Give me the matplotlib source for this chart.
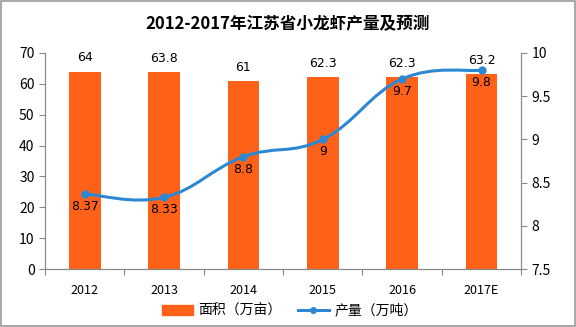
import numpy as np
import matplotlib
matplotlib.use("Agg")
import matplotlib.pyplot as plt
from matplotlib.patches import Rectangle, PathPatch
from matplotlib.path import Path
from matplotlib.lines import Line2D

plt.rcParams['font.family'] = ['Noto Sans CJK SC', 'DejaVu Sans']

years = ['2012', '2013', '2014', '2015', '2016', '2017E']
area = [64, 63.8, 61, 62.3, 62.3, 63.2]          # 面积（万亩）
output = [8.37, 8.33, 8.8, 9, 9.7, 9.8]         # 产量（万吨）
area_labels = ['64', '63.8', '61', '62.3', '62.3', '63.2']
output_labels = ['8.37', '8.33', '8.8', '9', '9.7', '9.8']

bar_color = '#FF6119'
line_color = '#2D88D4'
axis_gray = '#888888'


def smooth_path(xs, ys, t=0.2):
    # catmull-rom style bezier through the points (drawing only)
    xs = np.asarray(xs, float)
    ys = np.asarray(ys, float)
    verts = [(xs[0], ys[0])]
    codes = [Path.MOVETO]
    n = len(xs)
    for i in range(n - 1):
        i0 = max(i - 1, 0)
        i3 = min(i + 2, n - 1)
        c1 = (xs[i] + (xs[i + 1] - xs[i0]) * t, ys[i] + (ys[i + 1] - ys[i0]) * t)
        c2 = (xs[i + 1] - (xs[i3] - xs[i]) * t, ys[i + 1] - (ys[i3] - ys[i]) * t)
        verts += [c1, c2, (xs[i + 1], ys[i + 1])]
        codes += [Path.CURVE4] * 3
    return Path(verts, codes)


fig = plt.figure(figsize=(5.76, 3.27), dpi=100)
ax = fig.add_axes([0.078, 0.177, 0.827, 0.661])
ax2 = ax.twinx()

x = np.arange(len(years))
ax.bar(x, area, width=0.4, color=bar_color, zorder=2)
ax.set_ylim(0, 70)
ax.set_yticks(np.arange(0, 71, 10))
ax.set_xlim(-0.5, len(years) - 0.5)
ax.set_xticks(np.arange(-0.5, len(years)), labels=[])
ax.set_xticks(x, labels=years, minor=True)
ax.tick_params(axis='x', which='major', length=4, color=axis_gray, direction='out')
ax.tick_params(axis='x', which='minor', length=0, labelsize=9, pad=11)
ax.tick_params(axis='y', length=4, color=axis_gray, labelsize=10, direction='out')

for xi, v, s in zip(x, area, area_labels):
    ax.text(xi, v + 2.3, s, ha='center', va='bottom', fontsize=9, family='DejaVu Sans')

ax2.add_patch(PathPatch(smooth_path(x, output), facecolor='none', edgecolor=line_color,
                        lw=2.2, zorder=3))
ax2.plot(x, output, color=line_color, lw=0, marker='o', ms=5, zorder=4)
ax2.set_ylim(7.5, 10)
ax2.set_yticks([7.5, 8, 8.5, 9, 9.5, 10], labels=['7.5', '8', '8.5', '9', '9.5', '10'])
ax2.tick_params(axis='y', length=4, color=axis_gray, labelsize=10, direction='out')
for xi, v, s in zip(x, output, output_labels):
    ax2.text(xi, v - 0.07, s, ha='center', va='top', fontsize=9, family='DejaVu Sans')

for a in (ax, ax2):
    a.spines['top'].set_visible(False)
    for side in ('left', 'right', 'bottom'):
        a.spines[side].set_color(axis_gray)

fig.text(0.5, 0.925, '2012-2017年江苏省小龙虾产量及预测', ha='center', va='center',
         fontsize=12, fontweight='bold')

handles = [Rectangle((0, 0), 1, 1, color=bar_color),
           Line2D([0], [0], color=line_color, lw=2.2, marker='o', ms=4)]
fig.legend(handles, ['面积（万亩）', '产量（万吨）'], loc='center', bbox_to_anchor=(0.503, 0.05),
           ncol=2, frameon=False, fontsize=10, handlelength=2.2, columnspacing=1.2,
           handletextpad=0.4)

fig.patches.append(Rectangle((0.001, 0.002), 0.997, 0.995, transform=fig.transFigure,
                             fill=False, edgecolor='#999999', lw=1.2))

fig.savefig('out.png', dpi=100)
